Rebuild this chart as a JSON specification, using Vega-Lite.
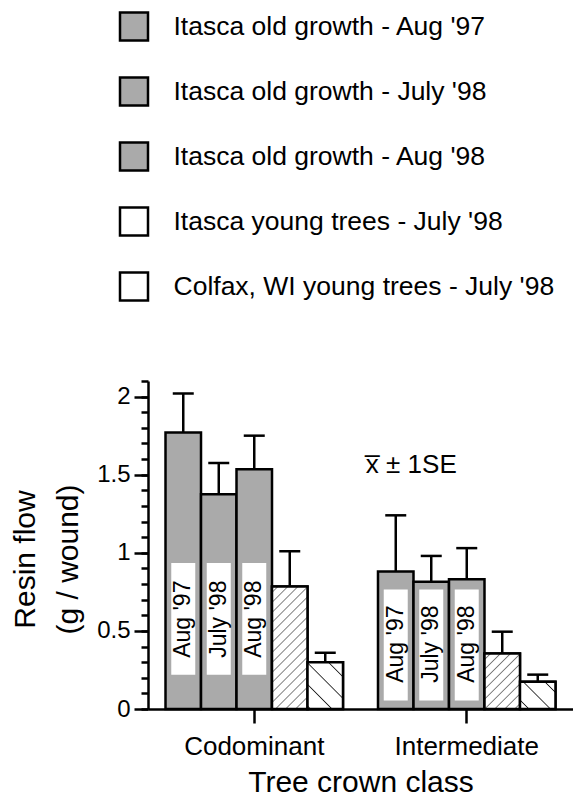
{
  "$schema": "https://vega.github.io/schema/vega-lite/v6.json",
  "autosize": "none",
  "padding": {"left": 148, "top": 381, "right": 0, "bottom": 88},
  "width": 425,
  "height": 328,
  "config": {
    "view": {"stroke": null},
    "font": "Liberation Sans",
    "axis": {
      "grid": false,
      "domainColor": "black",
      "domainWidth": 2.5,
      "tickColor": "black",
      "tickWidth": 2.5,
      "labelColor": "black",
      "titleColor": "black",
      "titleFontWeight": "normal",
      "labelFont": "Liberation Sans",
      "titleFont": "Liberation Sans"
    },
    "text": {"font": "Liberation Sans", "color": "black"}
  },
  "data": {
    "values": [
      {"crown": "Codominant", "series": "Itasca old growth - Aug '97", "grp": "old", "period": "Aug '97", "mean": 1.77, "hi": 2.02},
      {"crown": "Codominant", "series": "Itasca old growth - July '98", "grp": "old", "period": "July '98", "mean": 1.375, "hi": 1.575},
      {"crown": "Codominant", "series": "Itasca old growth - Aug '98", "grp": "old", "period": "Aug '98", "mean": 1.535, "hi": 1.75},
      {"crown": "Codominant", "series": "Itasca young trees - July '98", "grp": "young", "period": "July '98", "mean": 0.785, "hi": 1.01},
      {"crown": "Codominant", "series": "Colfax, WI young trees - July '98", "grp": "colfax", "period": "July '98", "mean": 0.3, "hi": 0.36},
      {"crown": "Intermediate", "series": "Itasca old growth - Aug '97", "grp": "old", "period": "Aug '97", "mean": 0.88, "hi": 1.24},
      {"crown": "Intermediate", "series": "Itasca old growth - July '98", "grp": "old", "period": "July '98", "mean": 0.815, "hi": 0.98},
      {"crown": "Intermediate", "series": "Itasca old growth - Aug '98", "grp": "old", "period": "Aug '98", "mean": 0.83, "hi": 1.03},
      {"crown": "Intermediate", "series": "Itasca young trees - July '98", "grp": "young", "period": "July '98", "mean": 0.355, "hi": 0.495},
      {"crown": "Intermediate", "series": "Colfax, WI young trees - July '98", "grp": "colfax", "period": "July '98", "mean": 0.175, "hi": 0.22}
    ]
  },
  "encoding": {
    "x": {
      "field": "crown",
      "type": "nominal",
      "title": "Tree crown class",
      "scale": {"domain": ["Codominant", "Intermediate"], "paddingInner": 0.1647, "paddingOuter": 0.0824},
      "axis": {"labelAngle": 0, "labelFontSize": 26, "tickSize": 14, "labelPadding": 10, "titleFontSize": 30, "titlePadding": 8}
    }
  },
  "resolve": {"axis": {"y": "independent"}},
  "layer": [
    {
      "mark": {"type": "bar", "stroke": "black", "strokeWidth": 2.5},
      "encoding": {
        "xOffset": {"field": "series", "type": "nominal", "scale": {"domain": ["Itasca old growth - Aug '97", "Itasca old growth - July '98", "Itasca old growth - Aug '98", "Itasca young trees - July '98", "Colfax, WI young trees - July '98"], "paddingInner": 0, "paddingOuter": 0}},
        "y": {
          "field": "mean",
          "type": "quantitative",
          "title": ["Resin flow", "(g / wound)"],
          "scale": {"domain": [0, 2.1], "nice": false},
          "axis": {
            "orient": "left",
            "values": [0, 0.5, 1, 1.5, 2],
            "format": "~g",
            "tickSize": 14,
            "labelOverlap": false,
            "labelFlush": false,
            "labelFontSize": 24,
            "labelPadding": 4,
            "titleFontSize": 30,
            "titleLineHeight": 43,
            "titlePadding": 13,
            "titleY": 178
          }
        },
        "fill": {
          "field": "series",
          "type": "nominal",
          "scale": {
            "domain": ["Itasca old growth - Aug '97", "Itasca old growth - July '98", "Itasca old growth - Aug '98", "Itasca young trees - July '98", "Colfax, WI young trees - July '98"],
            "range": ["#aaaaaa", "#aaaaaa", "#aaaaaa", "#ffffff", "#ffffff"]
          },
          "legend": {
            "title": null,
            "orient": "none",
            "legendX": -29.5,
            "legendY": -370,
            "padding": 0,
            "symbolType": "square",
            "symbolSize": 784,
            "symbolStrokeWidth": 2.5,
            "symbolStrokeColor": "black",
            "labelFontSize": 26.5,
            "labelColor": "black",
            "labelOffset": 24,
            "labelLimit": 600,
            "rowPadding": 26
          }
        }
      }
    },
    {
      "transform": [{"filter": "datum.grp === 'young' && datum.crown === 'Codominant'"}],
      "mark": {
        "type": "bar", "stroke": "black", "strokeWidth": 2.5,
        "fill": {
          "gradient": "linear", "x1": 0, "y1": 0, "x2": 0.3451, "y2": 1.1903,
          "stops": [
            {"offset": 0, "color": "#ffffff"},
            {"offset": 0.030, "color": "#ffffff"}, {"offset": 0.038, "color": "#777777"}, {"offset": 0.046, "color": "#ffffff"},
            {"offset": 0.093, "color": "#ffffff"}, {"offset": 0.101, "color": "#777777"}, {"offset": 0.109, "color": "#ffffff"},
            {"offset": 0.157, "color": "#ffffff"}, {"offset": 0.165, "color": "#777777"}, {"offset": 0.173, "color": "#ffffff"},
            {"offset": 0.220, "color": "#ffffff"}, {"offset": 0.228, "color": "#777777"}, {"offset": 0.236, "color": "#ffffff"},
            {"offset": 0.283, "color": "#ffffff"}, {"offset": 0.291, "color": "#777777"}, {"offset": 0.299, "color": "#ffffff"},
            {"offset": 0.346, "color": "#ffffff"}, {"offset": 0.354, "color": "#777777"}, {"offset": 0.362, "color": "#ffffff"},
            {"offset": 0.410, "color": "#ffffff"}, {"offset": 0.418, "color": "#777777"}, {"offset": 0.426, "color": "#ffffff"},
            {"offset": 0.473, "color": "#ffffff"}, {"offset": 0.481, "color": "#777777"}, {"offset": 0.489, "color": "#ffffff"},
            {"offset": 0.536, "color": "#ffffff"}, {"offset": 0.544, "color": "#777777"}, {"offset": 0.552, "color": "#ffffff"},
            {"offset": 0.600, "color": "#ffffff"}, {"offset": 0.608, "color": "#777777"}, {"offset": 0.616, "color": "#ffffff"},
            {"offset": 0.663, "color": "#ffffff"}, {"offset": 0.671, "color": "#777777"}, {"offset": 0.679, "color": "#ffffff"},
            {"offset": 0.726, "color": "#ffffff"}, {"offset": 0.734, "color": "#777777"}, {"offset": 0.742, "color": "#ffffff"},
            {"offset": 0.789, "color": "#ffffff"}, {"offset": 0.797, "color": "#777777"}, {"offset": 0.805, "color": "#ffffff"},
            {"offset": 0.853, "color": "#ffffff"}, {"offset": 0.861, "color": "#777777"}, {"offset": 0.869, "color": "#ffffff"},
            {"offset": 0.916, "color": "#ffffff"}, {"offset": 0.924, "color": "#777777"}, {"offset": 0.932, "color": "#ffffff"},
            {"offset": 0.979, "color": "#ffffff"}, {"offset": 0.987, "color": "#777777"}, {"offset": 0.995, "color": "#ffffff"},
            {"offset": 1, "color": "#ffffff"}
          ]
        }
      },
      "encoding": {
        "xOffset": {"field": "series", "type": "nominal", "scale": {"domain": ["Itasca old growth - Aug '97", "Itasca old growth - July '98", "Itasca old growth - Aug '98", "Itasca young trees - July '98", "Colfax, WI young trees - July '98"], "paddingInner": 0, "paddingOuter": 0}},
        "y": {"field": "mean", "type": "quantitative", "scale": {"domain": [0, 2.1], "nice": false}, "axis": null}
      }
    },
    {
      "transform": [{"filter": "datum.grp === 'young' && datum.crown === 'Intermediate'"}],
      "mark": {
        "type": "bar", "stroke": "black", "strokeWidth": 2.5,
        "fill": {
          "gradient": "linear", "x1": 0, "y1": 0, "x2": 0.7414, "y2": 1.1646,
          "stops": [
            {"offset": 0, "color": "#ffffff"},
            {"offset": 0.052, "color": "#ffffff"}, {"offset": 0.066, "color": "#777777"}, {"offset": 0.080, "color": "#ffffff"},
            {"offset": 0.161, "color": "#ffffff"}, {"offset": 0.175, "color": "#777777"}, {"offset": 0.189, "color": "#ffffff"},
            {"offset": 0.271, "color": "#ffffff"}, {"offset": 0.285, "color": "#777777"}, {"offset": 0.299, "color": "#ffffff"},
            {"offset": 0.380, "color": "#ffffff"}, {"offset": 0.394, "color": "#777777"}, {"offset": 0.408, "color": "#ffffff"},
            {"offset": 0.490, "color": "#ffffff"}, {"offset": 0.504, "color": "#777777"}, {"offset": 0.518, "color": "#ffffff"},
            {"offset": 0.600, "color": "#ffffff"}, {"offset": 0.614, "color": "#777777"}, {"offset": 0.628, "color": "#ffffff"},
            {"offset": 0.709, "color": "#ffffff"}, {"offset": 0.723, "color": "#777777"}, {"offset": 0.737, "color": "#ffffff"},
            {"offset": 0.819, "color": "#ffffff"}, {"offset": 0.833, "color": "#777777"}, {"offset": 0.847, "color": "#ffffff"},
            {"offset": 0.928, "color": "#ffffff"}, {"offset": 0.942, "color": "#777777"}, {"offset": 0.956, "color": "#ffffff"},
            {"offset": 1, "color": "#ffffff"}
          ]
        }
      },
      "encoding": {
        "xOffset": {"field": "series", "type": "nominal", "scale": {"domain": ["Itasca old growth - Aug '97", "Itasca old growth - July '98", "Itasca old growth - Aug '98", "Itasca young trees - July '98", "Colfax, WI young trees - July '98"], "paddingInner": 0, "paddingOuter": 0}},
        "y": {"field": "mean", "type": "quantitative", "scale": {"domain": [0, 2.1], "nice": false}, "axis": null}
      }
    },
    {
      "transform": [{"filter": "datum.grp === 'colfax' && datum.crown === 'Codominant'"}],
      "mark": {
        "type": "bar", "stroke": "black", "strokeWidth": 2.5,
        "fill": {
          "gradient": "linear", "x1": 0, "y1": 1, "x2": 0.848, "y2": -0.1156,
          "stops": [
            {"offset": 0, "color": "#ffffff"},
            {"offset": 0.0215, "color": "#ffffff"}, {"offset": 0.0365, "color": "#222222"}, {"offset": 0.0515, "color": "#ffffff"},
            {"offset": 0.283, "color": "#ffffff"}, {"offset": 0.298, "color": "#222222"}, {"offset": 0.313, "color": "#ffffff"},
            {"offset": 0.545, "color": "#ffffff"}, {"offset": 0.560, "color": "#222222"}, {"offset": 0.575, "color": "#ffffff"},
            {"offset": 0.806, "color": "#ffffff"}, {"offset": 0.821, "color": "#222222"}, {"offset": 0.836, "color": "#ffffff"},
            {"offset": 1, "color": "#ffffff"}
          ]
        }
      },
      "encoding": {
        "xOffset": {"field": "series", "type": "nominal", "scale": {"domain": ["Itasca old growth - Aug '97", "Itasca old growth - July '98", "Itasca old growth - Aug '98", "Itasca young trees - July '98", "Colfax, WI young trees - July '98"], "paddingInner": 0, "paddingOuter": 0}},
        "y": {"field": "mean", "type": "quantitative", "scale": {"domain": [0, 2.1], "nice": false}, "axis": null}
      }
    },
    {
      "transform": [{"filter": "datum.grp === 'colfax' && datum.crown === 'Intermediate'"}],
      "mark": {
        "type": "bar", "stroke": "black", "strokeWidth": 2.5,
        "fill": {
          "gradient": "linear", "x1": 0, "y1": 1, "x2": 1.1112, "y2": 0.1445,
          "stops": [
            {"offset": 0, "color": "#ffffff"},
            {"offset": 0.124, "color": "#ffffff"}, {"offset": 0.143, "color": "#222222"}, {"offset": 0.162, "color": "#ffffff"},
            {"offset": 0.466, "color": "#ffffff"}, {"offset": 0.485, "color": "#222222"}, {"offset": 0.504, "color": "#ffffff"},
            {"offset": 0.809, "color": "#ffffff"}, {"offset": 0.828, "color": "#222222"}, {"offset": 0.847, "color": "#ffffff"},
            {"offset": 1, "color": "#ffffff"}
          ]
        }
      },
      "encoding": {
        "xOffset": {"field": "series", "type": "nominal", "scale": {"domain": ["Itasca old growth - Aug '97", "Itasca old growth - July '98", "Itasca old growth - Aug '98", "Itasca young trees - July '98", "Colfax, WI young trees - July '98"], "paddingInner": 0, "paddingOuter": 0}},
        "y": {"field": "mean", "type": "quantitative", "scale": {"domain": [0, 2.1], "nice": false}, "axis": null}
      }
    },
    {
      "transform": [{"filter": "datum.grp === 'old' && datum.crown === 'Codominant'"}],
      "mark": {"type": "bar", "fill": "#ffffff", "strokeWidth": 0, "width": 24},
      "encoding": {
        "xOffset": {"field": "series", "type": "nominal", "scale": {"domain": ["Itasca old growth - Aug '97", "Itasca old growth - July '98", "Itasca old growth - Aug '98", "Itasca young trees - July '98", "Colfax, WI young trees - July '98"], "paddingInner": 0, "paddingOuter": 0}},
        "y": {"datum": 0.22, "type": "quantitative", "scale": {"domain": [0, 2.1], "nice": false}, "axis": null},
        "y2": {"datum": 0.935}
      }
    },
    {
      "transform": [{"filter": "datum.grp === 'old' && datum.crown === 'Intermediate'"}],
      "mark": {"type": "bar", "fill": "#ffffff", "strokeWidth": 0, "width": 24},
      "encoding": {
        "xOffset": {"field": "series", "type": "nominal", "scale": {"domain": ["Itasca old growth - Aug '97", "Itasca old growth - July '98", "Itasca old growth - Aug '98", "Itasca young trees - July '98", "Colfax, WI young trees - July '98"], "paddingInner": 0, "paddingOuter": 0}},
        "y": {"datum": 0.055, "type": "quantitative", "scale": {"domain": [0, 2.1], "nice": false}, "axis": null},
        "y2": {"datum": 0.765}
      }
    },
    {
      "transform": [{"filter": "datum.grp === 'old' && datum.crown === 'Codominant'"}],
      "mark": {"type": "text", "angle": 270, "fontSize": 23, "align": "center", "baseline": "middle", "color": "black"},
      "encoding": {
        "xOffset": {"field": "series", "type": "nominal", "scale": {"domain": ["Itasca old growth - Aug '97", "Itasca old growth - July '98", "Itasca old growth - Aug '98", "Itasca young trees - July '98", "Colfax, WI young trees - July '98"], "paddingInner": 0, "paddingOuter": 0}},
        "y": {"datum": 0.575, "type": "quantitative", "scale": {"domain": [0, 2.1], "nice": false}, "axis": null},
        "text": {"field": "period"}
      }
    },
    {
      "transform": [{"filter": "datum.grp === 'old' && datum.crown === 'Intermediate'"}],
      "mark": {"type": "text", "angle": 270, "fontSize": 23, "align": "center", "baseline": "middle", "color": "black"},
      "encoding": {
        "xOffset": {"field": "series", "type": "nominal", "scale": {"domain": ["Itasca old growth - Aug '97", "Itasca old growth - July '98", "Itasca old growth - Aug '98", "Itasca young trees - July '98", "Colfax, WI young trees - July '98"], "paddingInner": 0, "paddingOuter": 0}},
        "y": {"datum": 0.415, "type": "quantitative", "scale": {"domain": [0, 2.1], "nice": false}, "axis": null},
        "text": {"field": "period"}
      }
    },
    {
      "mark": {"type": "rule", "color": "black", "strokeWidth": 2.5},
      "encoding": {
        "xOffset": {"field": "series", "type": "nominal", "scale": {"domain": ["Itasca old growth - Aug '97", "Itasca old growth - July '98", "Itasca old growth - Aug '98", "Itasca young trees - July '98", "Colfax, WI young trees - July '98"], "paddingInner": 0, "paddingOuter": 0}},
        "y": {"field": "mean", "type": "quantitative", "scale": {"domain": [0, 2.1], "nice": false}, "axis": null},
        "y2": {"field": "hi"}
      }
    },
    {
      "mark": {"type": "tick", "orient": "horizontal", "size": 21, "thickness": 2.5, "color": "black", "opacity": 1},
      "encoding": {
        "xOffset": {"field": "series", "type": "nominal", "scale": {"domain": ["Itasca old growth - Aug '97", "Itasca old growth - July '98", "Itasca old growth - Aug '98", "Itasca young trees - July '98", "Colfax, WI young trees - July '98"], "paddingInner": 0, "paddingOuter": 0}},
        "y": {
          "field": "hi",
          "type": "quantitative",
          "title": null,
          "scale": {"domain": [0, 2.1], "nice": false},
          "axis": {
            "orient": "left",
            "values": [0, 0.1, 0.2, 0.3, 0.4, 0.5, 0.6, 0.7, 0.8, 0.9, 1, 1.1, 1.2, 1.3, 1.4, 1.5, 1.6, 1.7, 1.8, 1.9, 2, 2.1],
            "tickSize": 7,
            "labels": false,
            "domain": false,
            "title": null
          }
        }
      }
    },
    {
      "data": {"values": [{"crown": "Intermediate", "note": "x\u0305 \u00b1 1SE"}]},
      "mark": {"type": "text", "fontSize": 26, "align": "right", "baseline": "alphabetic", "dx": -10, "color": "black"},
      "encoding": {
        "y": {"datum": 1.513, "type": "quantitative", "scale": {"domain": [0, 2.1], "nice": false}, "axis": null},
        "text": {"field": "note"}
      }
    }
  ]
}
